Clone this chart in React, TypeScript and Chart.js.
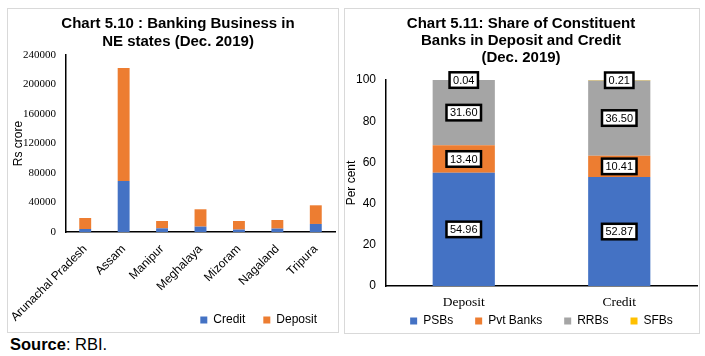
import React, { useEffect, useRef } from "react";
import { Chart, registerables } from "chart.js";

Chart.register(...registerables);

const SANS = "'Liberation Sans', Arial, sans-serif";
const SERIF = "'Liberation Serif', 'Times New Roman', serif";

// Chart 5.10 data (Rs crore)
const states = ["Arunachal Pradesh", "Assam", "Manipur", "Meghalaya", "Mizoram", "Nagaland", "Tripura"];
const creditValues = [4100, 69200, 5000, 7300, 3300, 4600, 10900];
const depositValues = [14900, 153200, 9900, 23500, 11600, 11700, 25300];
const leftYTicks = [0, 40000, 80000, 120000, 160000, 200000, 240000];

// Chart 5.11 data (per cent)
const shareCategories = ["Deposit", "Credit"];
const psbShare = [54.96, 52.87];
const pvtShare = [13.4, 10.41];
const rrbShare = [31.6, 36.5];
const sfbShare = [0.04, 0.21];
const rightYTicks = [0, 20, 40, 60, 80, 100];

const BLUE = "#4472C4";
const ORANGE = "#ED7D31";
const GRAY = "#A5A5A5";
const YELLOW = "#FFC000";

const noClip = (s: any) => {
  s._computeLabelArea = () => undefined;
};

const boxLabels = {
  id: "boxLabels",
  afterDatasetsDraw(chart: any) {
    const ctx = chart.ctx;
    ctx.save();
    ctx.font = `11px ${SANS}`;
    ctx.textAlign = "center";
    ctx.textBaseline = "middle";
    chart.data.datasets.forEach((ds: any, di: number) => {
      const meta = chart.getDatasetMeta(di);
      meta.data.forEach((bar: any, i: number) => {
        const v = ds.data[i] as number;
        const { x, y, base } = bar.getProps(["x", "y", "base"], true);
        const cy = (y + base) / 2;
        const txt = v.toFixed(2);
        const tw = ctx.measureText(txt).width;
        const w = tw + 7;
        const h = 15.5;
        ctx.fillStyle = "#fff";
        ctx.fillRect(x - w / 2, cy - h / 2, w, h);
        ctx.lineWidth = 2.5;
        ctx.strokeStyle = "#000";
        ctx.strokeRect(x - w / 2, cy - h / 2, w, h);
        ctx.fillStyle = "#000";
        ctx.fillText(txt, x, cy + 0.5);
      });
    });
    ctx.restore();
  },
};

function LeftChart() {
  const ref = useRef<HTMLCanvasElement>(null);
  useEffect(() => {
    const chart = new Chart(ref.current!, {
      type: "bar",
      data: {
        labels: states,
        datasets: [
          { label: "Credit", data: creditValues, backgroundColor: BLUE, stack: "s" },
          { label: "Deposit", data: depositValues, backgroundColor: ORANGE, stack: "s" },
        ],
      },
      options: {
        animation: false,
        responsive: false,
        devicePixelRatio: 1,
        layout: { padding: { left: 13, right: 3, top: 5.5, bottom: -4 } },
        datasets: { bar: { categoryPercentage: 1, barPercentage: 0.31 } },
        plugins: {
          title: {
            display: true,
            text: ["Chart 5.10 : Banking Business in", "NE states (Dec. 2019)"],
            color: "#000",
            font: { family: SANS, size: 15, weight: "bold", lineHeight: 1.2 },
            padding: { top: 0, bottom: 4.5 },
          },
          legend: {
            position: "bottom",
            align: "end",
            fullSize: false,
            labels: { boxWidth: 7, boxHeight: 7, padding: 18, color: "#000", font: { family: SANS, size: 12 } },
          },
          tooltip: { enabled: false },
        },
        scales: {
          x: {
            stacked: true,
            grid: { display: false, drawTicks: false },
            border: { display: true, color: "#000", width: 1.5 },
            ticks: {
              minRotation: 45,
              maxRotation: 45,
              autoSkip: false,
              padding: 10,
              color: "#000",
              font: { family: SANS, size: 12 },
            },
            afterFit: (s: any) => {
              s.height = 64;
              s.paddingLeft = 0;
              s.paddingRight = 0;
              noClip(s);
            },
          },
          y: {
            stacked: true,
            min: 0,
            max: 240000,
            grid: { display: false, drawTicks: false },
            border: { display: true, color: "#000", width: 1.5 },
            afterBuildTicks: (s: any) => {
              s.ticks = leftYTicks.map((v) => ({ value: v }));
            },
            ticks: {
              padding: 10,
              color: "#000",
              font: { family: SERIF, size: 11 },
              callback: (v: any) => String(v),
            },
            title: {
              display: true,
              text: "Rs crore",
              color: "#000",
              font: { family: SANS, size: 12 },
              padding: { top: -10, bottom: 0 },
            },
            afterFit: (s: any) => {
              s.width = 45;
              noClip(s);
            },
          },
        },
      } as any,
    });
    return () => chart.destroy();
  }, []);
  return <canvas ref={ref} width={330} height={323} style={{ width: 330, height: 323, display: "block" }} />;
}

function RightChart() {
  const ref = useRef<HTMLCanvasElement>(null);
  useEffect(() => {
    const chart = new Chart(ref.current!, {
      type: "bar",
      data: {
        labels: shareCategories,
        datasets: [
          { label: "PSBs", data: psbShare, backgroundColor: BLUE, stack: "s" },
          { label: "Pvt Banks", data: pvtShare, backgroundColor: ORANGE, stack: "s" },
          { label: "RRBs", data: rrbShare, backgroundColor: GRAY, stack: "s" },
          { label: "SFBs", data: sfbShare, backgroundColor: YELLOW, stack: "s" },
        ],
      },
      options: {
        animation: false,
        responsive: false,
        devicePixelRatio: 1,
        layout: { padding: { left: 0, right: 2, top: 6, bottom: -4 } },
        datasets: { bar: { categoryPercentage: 1, barPercentage: 0.4 } },
        plugins: {
          title: {
            display: true,
            text: ["Chart 5.11: Share of Constituent", "Banks in Deposit and Credit", "(Dec. 2019)"],
            color: "#000",
            font: { family: SANS, size: 15, weight: "bold", lineHeight: 17 / 15 },
            padding: { top: 0, bottom: 14 },
          },
          legend: {
            position: "bottom",
            align: "center",
            fullSize: false,
            labels: { boxWidth: 7, boxHeight: 7, padding: 22, color: "#000", font: { family: SANS, size: 12 } },
          },
          tooltip: { enabled: false },
        },
        scales: {
          x: {
            stacked: true,
            grid: { display: false, drawTicks: false },
            border: { display: true, color: "#000", width: 1.5 },
            ticks: { padding: 8, color: "#000", font: { family: SERIF, size: 13.5 } },
            afterFit: (s: any) => {
              s.height = 7;
              s.paddingLeft = 0;
              s.paddingRight = 0;
              noClip(s);
            },
          },
          y: {
            stacked: true,
            min: 0,
            max: 100,
            grid: { display: false, drawTicks: false },
            border: { display: true, color: "#000", width: 1.5 },
            afterBuildTicks: (s: any) => {
              s.ticks = rightYTicks.map((v) => ({ value: v }));
            },
            ticks: {
              padding: 10,
              color: "#000",
              font: { family: SANS, size: 12 },
              callback: (v: any) => String(v),
            },
            title: {
              display: true,
              text: "Per cent",
              color: "#000",
              font: { family: SANS, size: 12 },
              padding: { top: -1, bottom: 0 },
            },
            afterFit: (s: any) => {
              s.width = 41;
              noClip(s);
            },
          },
        },
      } as any,
      plugins: [boxLabels],
    });
    return () => chart.destroy();
  }, []);
  return <canvas ref={ref} width={354} height={324} style={{ width: 354, height: 324, display: "block" }} />;
}

export default function App() {
  return (
    <div style={{ position: "absolute", left: 0, top: 0, width: 705, height: 356, background: "#fff", overflow: "hidden" }}>
      <div
        style={{
          position: "absolute",
          left: 7,
          top: 8,
          width: 332,
          height: 325,
          border: "1px solid #D9D9D9",
          boxSizing: "border-box",
        }}
      >
        <LeftChart />
      </div>
      <div
        style={{
          position: "absolute",
          left: 344,
          top: 8,
          width: 356,
          height: 326,
          border: "1px solid #D9D9D9",
          boxSizing: "border-box",
        }}
      >
        <RightChart />
      </div>
      <div
        style={{
          position: "absolute",
          left: 10,
          top: 335,
          fontFamily: SANS,
          fontSize: 16.5,
          lineHeight: "19px",
          color: "#000",
          whiteSpace: "nowrap",
        }}
      >
        <b>Source</b>: RBI.
      </div>
    </div>
  );
}
